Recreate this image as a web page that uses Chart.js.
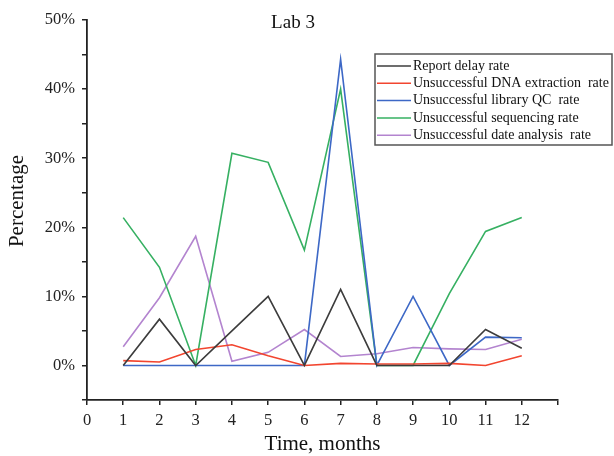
<!DOCTYPE html>
<html lang="en">
<head>
  <meta charset="UTF-8">
  <title>Lab 3</title>
  <script src="https://cdn.jsdelivr.net/npm/chart.js"></script>
  <style>
    html, body { margin: 0; padding: 0; background: #fff; }
    #wrap { width: 614px; height: 456px; }
  </style>
</head>
<body>
  <div id="wrap"><canvas id="chart" width="614" height="456"></canvas></div>

  <script>
    const months = [1, 2, 3, 4, 5, 6, 7, 8, 9, 10, 11, 12];
    const reportDelay = [0, 6.7, 0, 5, 10, 0, 11, 0, 0, 0, 5.2, 2.5];
    const dnaExtraction = [0.7, 0.5, 2.3, 3.0, 1.4, 0, 0.3, 0.2, 0.2, 0.3, 0, 1.4];
    const libraryQC = [0, 0, 0, 0, 0, 0, 44.3, 0, 10, 0, 4.1, 4.0];
    const sequencing = [21.4, 14.2, 0, 30.7, 29.4, 16.7, 40, 0, 0, 10.4, 19.4, 21.4];
    const dataAnalysis = [2.7, 9.8, 18.7, 0.6, 1.9, 5.2, 1.3, 1.7, 2.6, 2.4, 2.3, 3.8];

    const seriesNames = [
      'Report delay rate',
      'Unsuccessful DNA extraction  rate',
      'Unsuccessful library QC  rate',
      'Unsuccessful sequencing rate',
      'Unsuccessful date analysis  rate'
    ];
    const seriesValues = [reportDelay, dnaExtraction, libraryQC, sequencing, dataAnalysis];
    const colors = ['#3c3c3c', '#f2452f', '#3d68c6', '#36b062', '#b384cf'];

    const serif = "'Liberation Serif', 'DejaVu Serif', serif";

    // title, y axis label and the boxed legend, drawn over the plot
    const overlay = {
      id: 'overlay',
      afterDatasetsDraw(chart) {
        const ctx = chart.ctx;
        ctx.save();
        ctx.fillStyle = '#111';
        ctx.font = '19px ' + serif;
        ctx.textAlign = 'center';
        ctx.textBaseline = 'middle';
        ctx.fillText('Lab 3', 293, 23);

        ctx.save();
        ctx.translate(17, 201);
        ctx.rotate(-Math.PI / 2);
        ctx.font = '21px ' + serif;
        ctx.fillText('Percentage', 0, 0);
        ctx.restore();

        const bx = 375, by = 54, bw = 237, bh = 91;
        ctx.fillStyle = '#fff';
        ctx.fillRect(bx, by, bw, bh);
        ctx.strokeStyle = '#555';
        ctx.lineWidth = 1.5;
        ctx.strokeRect(bx, by, bw, bh);

        ctx.font = '14px ' + serif;
        ctx.textAlign = 'left';
        chart.data.datasets.forEach((ds, i) => {
          const y = 66 + i * 17.3;
          ctx.strokeStyle = ds.borderColor;
          ctx.lineWidth = 1.5;
          ctx.beginPath();
          ctx.moveTo(bx + 2, y);
          ctx.lineTo(411, y);
          ctx.stroke();
          ctx.fillStyle = '#111';
          ctx.fillText(ds.label, 413, y);
        });
        ctx.restore();
      }
    };

    new Chart(document.getElementById('chart'), {
      type: 'line',
      data: {
        datasets: seriesNames.map((name, i) => ({
          label: name,
          data: months.map((m, j) => ({ x: m, y: seriesValues[i][j] })),
          borderColor: colors[i],
          backgroundColor: colors[i],
          borderWidth: 1.6,
          pointRadius: 0,
          tension: 0,
          fill: false
        }))
      },
      options: {
        responsive: false,
        animation: false,
        layout: { padding: { left: 0, top: 20, right: 56, bottom: 0 } },
        plugins: {
          legend: { display: false },
          tooltip: { enabled: false }
        },
        scales: {
          x: {
            type: 'linear',
            min: 0,
            max: 13,
            afterFit: (s) => { s.height = 56; },
            grid: { drawOnChartArea: false, drawTicks: true, tickLength: 5, color: '#222', lineWidth: 1.5 },
            border: { display: true, color: '#222', width: 1.8 },
            ticks: {
              stepSize: 1,
              autoSkip: false,
              maxRotation: 0,
              padding: 6,
              color: '#222',
              font: { family: serif, size: 16.5 },
              callback: (v) => (v <= 12 ? String(v) : '')
            },
            title: {
              display: true,
              text: 'Time, months',
              color: '#111',
              font: { family: serif, size: 21, lineHeight: 1 },
              padding: { top: 0, bottom: 1 }
            }
          },
          y: {
            min: -5,
            max: 50,
            afterFit: (s) => { s.width = 87; },
            grid: { drawOnChartArea: false, drawTicks: true, tickLength: 5, color: '#222', lineWidth: 1.5 },
            border: { display: true, color: '#222', width: 1.8 },
            ticks: {
              stepSize: 5,
              autoSkip: false,
              padding: 7,
              color: '#222',
              font: { family: serif, size: 16.5 },
              callback: (v) => (v >= 0 && v % 10 === 0 ? v + '%' : '')
            }
          }
        }
      },
      plugins: [overlay]
    });
  </script>
</body>
</html>
